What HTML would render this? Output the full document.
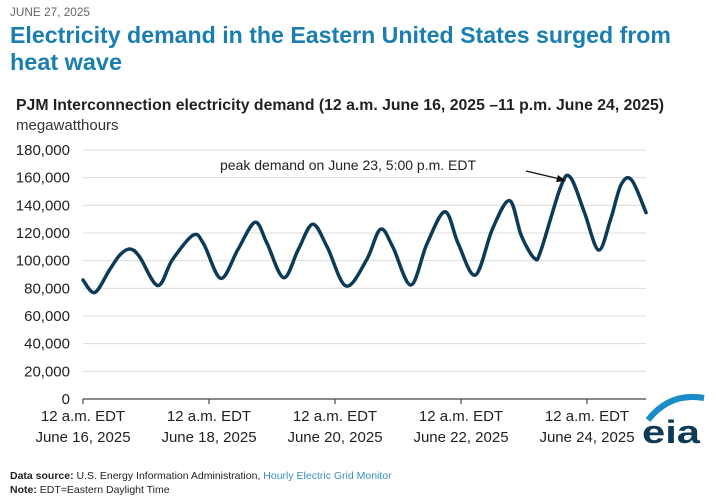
<!DOCTYPE html>
<html><head><meta charset="utf-8">
<style>
html,body{margin:0;padding:0;background:#fff;}
svg{display:block;font-family:"Liberation Sans",sans-serif;}
</style></head>
<body>
<svg id="chart" width="716" height="501" viewBox="0 0 716 501" xmlns="http://www.w3.org/2000/svg">
  <text x="10" y="16" font-size="12" fill="#666" textLength="80" lengthAdjust="spacingAndGlyphs">JUNE 27, 2025</text>
  <text x="10" y="43" font-size="23" font-weight="bold" fill="#1a7fb0" textLength="661" lengthAdjust="spacingAndGlyphs">Electricity demand in the Eastern United States surged from</text>
  <text x="10" y="70" font-size="23" font-weight="bold" fill="#1a7fb0" textLength="112" lengthAdjust="spacingAndGlyphs">heat wave</text>
  <text x="16" y="110" font-size="16" font-weight="bold" fill="#222" textLength="648" lengthAdjust="spacingAndGlyphs">PJM Interconnection electricity demand (12 a.m. June 16, 2025 –11 p.m. June 24, 2025)</text>
  <text x="16" y="130" font-size="15" fill="#333">megawatthours</text>
  <g id="grid"></g>
  <g id="yticks"></g>
  <g id="xaxis"></g>
  <path id="line" fill="none" stroke="#0d3a56" stroke-width="3.5" stroke-linejoin="round" stroke-linecap="round"/>
  <text x="220" y="170" font-size="14" fill="#222">peak demand on June 23, 5:00 p.m. EDT</text>
  <g>
    <line x1="526" y1="171" x2="560" y2="179" stroke="#111" stroke-width="1.2"/>
    <polygon points="566,181 556,182 558,175" fill="#111"/>
  </g>
  <g>
    <path d="M648 420 Q670 392 704 398" fill="none" stroke="#1a8cc8" stroke-width="6"/>
    <text x="642" y="443" font-size="32" font-weight="bold" fill="#0d3a56" textLength="58" lengthAdjust="spacingAndGlyphs">eia</text>
  </g>
  <text x="10" y="479" font-size="10.5" fill="#222"><tspan font-weight="bold">Data source:</tspan> U.S. Energy Information Administration, <tspan fill="#3a8fc0">Hourly Electric Grid Monitor</tspan></text>
  <text x="10" y="493" font-size="10.5" fill="#222"><tspan font-weight="bold">Note:</tspan> EDT=Eastern Daylight Time</text>
</svg>
<script>
const yTicks=[0,20000,40000,60000,80000,100000,120000,140000,160000,180000];
const xTickHours=[0,48,96,144,192];
const xTickLine1=["12 a.m. EDT","12 a.m. EDT","12 a.m. EDT","12 a.m. EDT","12 a.m. EDT"];
const xTickLine2=["June 16, 2025","June 18, 2025","June 20, 2025","June 22, 2025","June 24, 2025"];
const hours=[0,4.5,10,14,17.8,21.5,28.5,34,42,46,52.5,59,65.5,70,76.4,82,87.5,93,100.2,108,113.3,118,124.9,131,137.9,143,149.5,156,162.5,167,172,174.5,182,185.7,191,196.4,201,205,209,214.5];
const demand=[86000,77000,93000,104000,108400,103000,82000,100500,118500,112000,87200,108000,127700,113000,87700,108000,126300,110000,81700,100500,122700,110000,82400,112000,135400,112000,89600,123000,143400,118000,101700,107700,153500,160200,135000,107700,130000,155000,158300,134700];
const NS="http://www.w3.org/2000/svg";
const X0=83,PX_PER_H=2.625,Y0=399,PX_PER_V=249/180000;
const xs=h=>X0+h*PX_PER_H, ys=v=>Y0-v*PX_PER_V;
function mk(tag,attrs,parent){const e=document.createElementNS(NS,tag);for(const k in attrs)e.setAttribute(k,attrs[k]);parent.appendChild(e);return e;}
const grid=document.getElementById('grid'),yt=document.getElementById('yticks'),xa=document.getElementById('xaxis');
yTicks.forEach(v=>{
  if(v>0){const g=mk('line',{x1:X0,x2:646,y1:ys(v),y2:ys(v),stroke:'#dcdcdc','stroke-width':1},grid);
  
  }
  const t=mk('text',{x:70,y:ys(v)+5,'text-anchor':'end','font-size':15,fill:'#222'},yt);
  t.textContent=v.toLocaleString('en-US');
  
  
});
const ax=mk('line',{x1:X0,x2:646,y1:Y0,y2:Y0,stroke:'#444','stroke-width':1.2},xa);


xTickHours.forEach((h,i)=>{
  const tk=mk('line',{x1:xs(h),x2:xs(h),y1:Y0,y2:Y0+5,stroke:'#444','stroke-width':1.2},xa);
  
  
  const t1=mk('text',{x:xs(h),y:421,'text-anchor':'middle','font-size':15,fill:'#222'},xa);
  t1.textContent=xTickLine1[i];
  
  
  const t2=mk('text',{x:xs(h),y:442,'text-anchor':'middle','font-size':15,fill:'#222'},xa);
  t2.textContent=xTickLine2[i];
  
  
});
const P=hours.map((h,i)=>[xs(h),ys(demand[i])]);
let d='M'+P[0][0]+','+P[0][1];
for(let i=0;i<P.length-1;i++){
  const p0=P[i-1]||P[i],p1=P[i],p2=P[i+1],p3=P[i+2]||p2;
  const c1=[p1[0]+(p2[0]-p0[0])/6,p1[1]+(p2[1]-p0[1])/6];
  const c2=[p2[0]-(p3[0]-p1[0])/6,p2[1]-(p3[1]-p1[1])/6];
  d+=` C${c1[0]},${c1[1]} ${c2[0]},${c2[1]} ${p2[0]},${p2[1]}`;
}
document.getElementById('line').setAttribute('d',d);
</script>
</body></html>
